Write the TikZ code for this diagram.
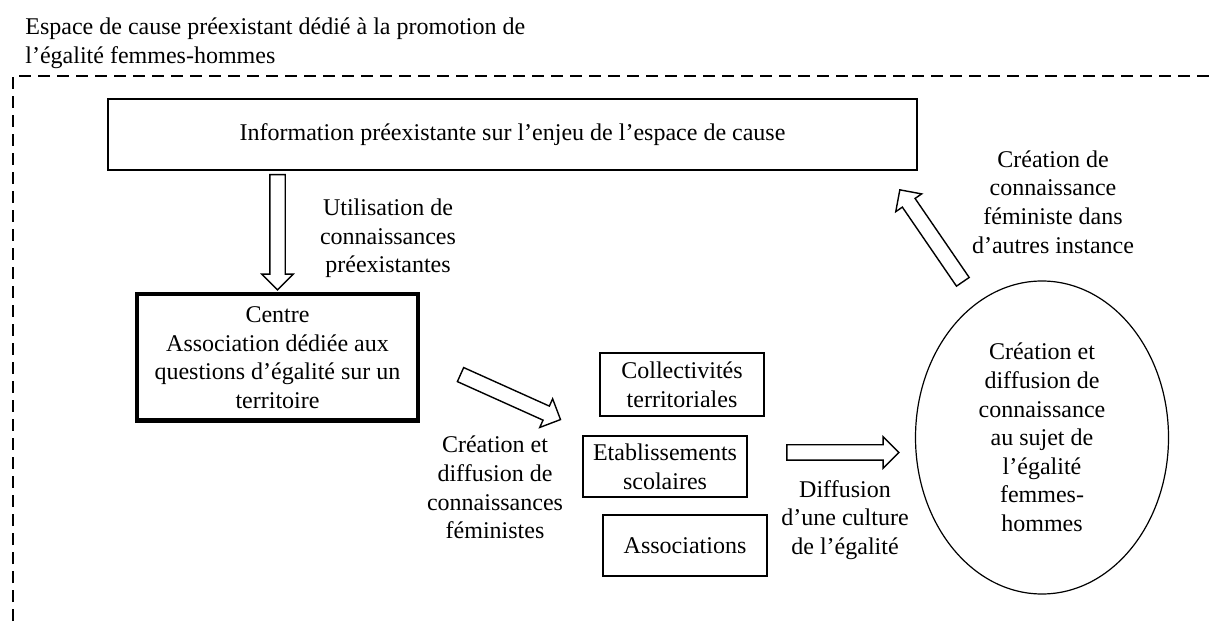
\documentclass[tikz,border=0pt]{standalone}
\usepackage{fontspec}
\setmainfont{Liberation Serif}
\usetikzlibrary{shapes.geometric,shapes.arrows,calc,positioning}

% hollow block arrow laid between two points
\newcommand{\blockarrow}[2]{%
  \path let \p1=($(#2)-(#1)$), \n1={veclen(\x1,\y1)} in
    (#1) -- (#2) node[midway, sloped, allow upside down, bigarrow, minimum height=\n1] {};}

\begin{document}
\begin{tikzpicture}[
    x=0.5pt, y=0.5pt,
    every node/.style={font=\fontsize{12}{14.3}\selectfont},
    block/.style={draw, line width=0.8pt, align=center, inner sep=0pt},
    bigarrow/.style={draw, line width=0.7pt, single arrow, inner sep=3.5pt, single arrow head extend=4pt},
    lbl/.style={align=center, inner sep=0pt},
    frame/.style={dash pattern=on 6pt off 3.5pt, line width=0.85pt}
  ]
  \useasboundingbox (0,0) rectangle (1209,621);

  % Cause space
  \node[lbl, align=left, anchor=west] (title) at (25,578) {Espace de cause préexistant dédié à la promotion de\\l’égalité femmes-hommes};
  \draw[frame] (13,0) |- (1209,545);

  % Preexisting information
  \node[block, minimum width=404.5pt, minimum height=35.5pt] (info) at (512.5,486.5) {Information préexistante sur l’enjeu de l’espace de cause};

  % Centre
  \node[block, line width=2.25pt, minimum width=140.5pt, minimum height=63.25pt] (centre) at (277.5,263.5) {Centre\\Association dédiée aux\\questions d’égalité sur un\\territoire};

  % Partners
  \node[block, minimum width=82pt, minimum height=31.5pt] (coll) at (682,236.5) {Collectivités\\territoriales};
  \node[block, minimum width=82pt, minimum height=30.5pt] (etab) at (665,154.5) {Etablissements\\scolaires};
  \node[block, minimum width=82pt, minimum height=30.5pt] (asso) at (685,75.5) {Associations};

  % Knowledge
  \node[draw, ellipse, line width=0.6pt, align=center, inner sep=0pt, minimum width=126.5pt, minimum height=156.5pt] (know) at (1042,183.5) {Création et\\diffusion de\\connaissance\\au sujet de\\l’égalité\\femmes-\\hommes};

  % Arrows
  \coordinate (d1s) at (457,248);
  \coordinate (d1e) at (557,203);
  \coordinate (d2s) at (783,168.5);
  \coordinate (d2e) at (895,168.5);
  \coordinate (d3s) at (965,336);
  \coordinate (d3e) at (902,428);
  \blockarrow{info.south -| centre}{$(centre.north)+(0,6)$}
  \blockarrow{d1s}{d1e}
  \blockarrow{d2s}{d2e}
  \blockarrow{d3s}{d3e}

  % Labels
  \node[lbl] (use) at (388,382.5) {Utilisation de\\connaissances\\préexistantes};
  \node[lbl] (make) at (495,133.5) {Création et\\diffusion de\\connaissances\\féministes};
  \node[lbl] (spread) at (845,101) {Diffusion\\d’une culture\\de l’égalité};
  \node[lbl] (other) at (1053,419) {Création de\\connaissance\\féministe dans\\d’autres instance};
\end{tikzpicture}
\end{document}
